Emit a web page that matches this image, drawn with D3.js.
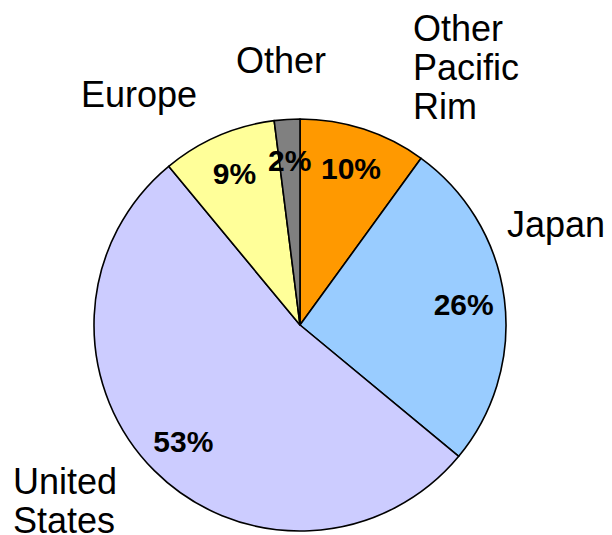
<!DOCTYPE html>
<html>
<head>
<meta charset="utf-8">
<script src="https://cdn.jsdelivr.net/npm/d3@7"></script>
<style>
  body { margin: 0; background: #fff; }
  .cat { font-family: Arial, "Liberation Sans", sans-serif; font-size: 36px; fill: #000; }
  .pct { font-family: Arial, "Liberation Sans", sans-serif; font-size: 30px; font-weight: bold; fill: #000; }
</style>
</head>
<body>
<div id="chart"></div>
<script>
// regions, clockwise from 12 o'clock
let regions = ["Other Pacific Rim", "Japan", "United States", "Europe", "Other"];
let shares = [10, 26, 53, 9, 2];
let colors = ["#ff9900", "#99ccff", "#ccccff", "#ffff99", "#808080"];
let labelLines = [["Other", "Pacific", "Rim"], ["Japan"], ["United", "States"], ["Europe"], ["Other"]];

let width = 612;
let height = 535;
let cx = 300, cy = 325, radius = 206;

// where each outside label starts (left x, first baseline)
let labelPos = [[413, 41], [507, 237], [13, 494], [81, 107], [236, 73]];

let data = regions.map((r, i) => ({region: r, share: shares[i], color: colors[i], lines: labelLines[i], pos: labelPos[i]}));

let svg = d3.select("#chart")
    .append("svg")
    .attr("width", width)
    .attr("height", height);

let pie = d3.pie()
    .sort(null)
    .value(d => d.share);

let arc = d3.arc()
    .innerRadius(0)
    .outerRadius(radius);

let labelArc = d3.arc()
    .innerRadius(165)
    .outerRadius(165);

let g = svg.append("g")
    .attr("transform", "translate(" + cx + "," + cy + ")");

let arcs = pie(data);

g.selectAll("path")
    .data(arcs)
    .enter()
    .append("path")
    .attr("d", arc)
    .attr("fill", d => d.data.color)
    .attr("stroke", "#000")
    .attr("stroke-width", 1.6)
    .attr("stroke-linejoin", "round");

g.selectAll(".pct")
    .data(arcs)
    .enter()
    .append("text")
    .attr("class", "pct")
    .attr("text-anchor", "middle")
    .attr("x", d => labelArc.centroid(d)[0])
    .attr("y", d => labelArc.centroid(d)[1])
    .attr("dy", "0.36em")
    .text(d => d.data.share + "%");

let cats = svg.selectAll(".cat")
    .data(data)
    .enter()
    .append("text")
    .attr("class", "cat")
    .attr("x", d => d.pos[0])
    .attr("y", d => d.pos[1]);

cats.selectAll("tspan")
    .data(d => d.lines.map(l => ({line: l, x: d.pos[0]})))
    .enter()
    .append("tspan")
    .attr("x", d => d.x)
    .attr("dy", (d, i) => i === 0 ? 0 : 39)
    .text(d => d.line);
</script>
</body>
</html>
